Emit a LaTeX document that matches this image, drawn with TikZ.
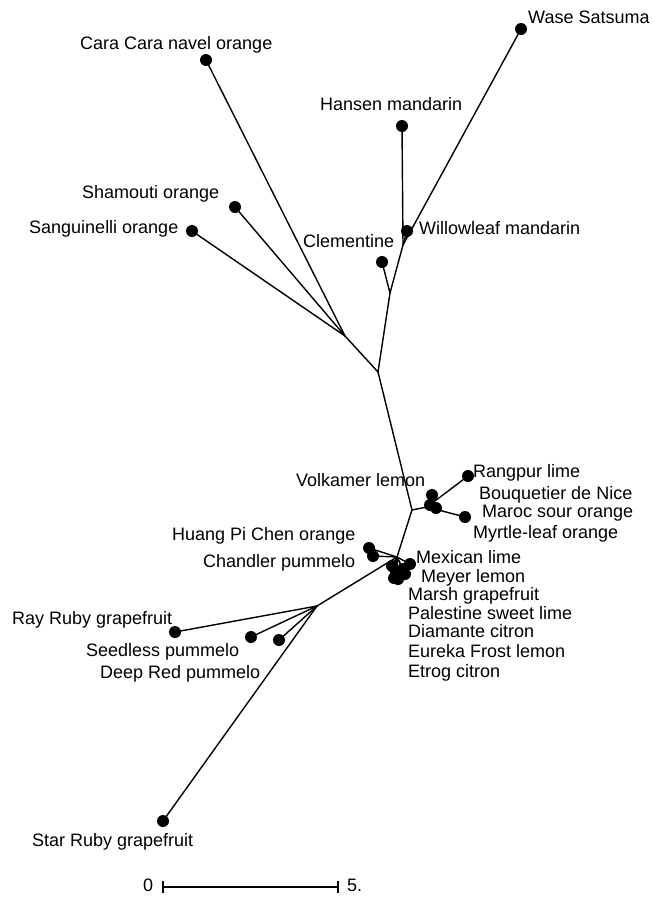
\documentclass[tikz,border=0pt]{standalone}
\usepackage{fontspec}
\setmainfont{Liberation Sans}
\begin{document}
\begin{tikzpicture}[x=1pt,y=-1pt,
  leaf/.style={circle,fill=black,inner sep=0pt,minimum size=12pt},
  lab/.style={inner sep=0pt,anchor=west,text height=13pt,text depth=0pt,font=\fontsize{18}{20}\selectfont},
  br/.style={line width=1.4pt,line cap=round}]
\useasboundingbox (0,0) rectangle (655,897);
% internal junctions
\coordinate (M2) at (403,245);
\coordinate (M1) at (390,293);
\coordinate (T1) at (378,372);
\coordinate (O) at (345,336);
\coordinate (JS) at (412,510);
\coordinate (S1) at (427,507);
\coordinate (JL) at (397,557);
\coordinate (G) at (317,606);
% leaves
\node[leaf] (wase) at (521,29) {};
\node[leaf] (cara) at (206,60) {};
\node[leaf] (hansen) at (402,126) {};
\node[leaf] (shamouti) at (235,207) {};
\node[leaf] (sang) at (192,231) {};
\node[leaf] (willow) at (407,231) {};
\node[leaf] (clem) at (382,262) {};
\node[leaf] (rangpur) at (468,476) {};
\node[leaf] (bouq) at (432,495) {};
\node[leaf] (maroc) at (436,508) {};
\node[leaf] (volk) at (430,505) {};
\node[leaf] (myrtle) at (465,517) {};
\node[leaf] (huang) at (369,548) {};
\node[leaf] (chandler) at (373,556) {};
\node[leaf] (mexican) at (410,564) {};
\node[leaf] (meyer) at (403,569) {};
\node[leaf] (marsh) at (396,572) {};
\node[leaf] (palest) at (392,566) {};
\node[leaf] (diam) at (398,579) {};
\node[leaf] (eureka) at (405,574) {};
\node[leaf] (etrog) at (394,578) {};
\node[leaf] (rayruby) at (175,632) {};
\node[leaf] (seedless) at (251,637) {};
\node[leaf] (deepred) at (279,640) {};
\node[leaf] (starruby) at (163,821) {};
% branches
\draw[br] (M2) -- (wase.center);
\draw[br] (M2) -- (hansen.center);
\draw[br] (M2) -- (willow.center);
\draw[br] (M2) -- (M1);
\draw[br] (M1) -- (clem.center);
\draw[br] (M1) -- (T1);
\draw[br] (T1) -- (O);
\draw[br] (O) -- (cara.center);
\draw[br] (O) -- (shamouti.center);
\draw[br] (O) -- (sang.center);
\draw[br] (T1) -- (JS);
\draw[br] (JS) -- (S1);
\foreach \n in {rangpur,bouq,maroc,volk,myrtle} \draw[br] (S1) -- (\n.center);
\draw[br] (JS) -- (JL);
\foreach \n in {huang,chandler,mexican,meyer,marsh,palest,diam,eureka,etrog} \draw[br] (JL) -- (\n.center);
\draw[br] (JL) -- (G);
\foreach \n in {rayruby,seedless,deepred,starruby} \draw[br] (G) -- (\n.center);
% labels
\node[lab] (lwase) at (528,17) {Wase Satsuma};
\node[lab] (lcara) at (80,43) {Cara Cara navel orange};
\node[lab] (lhansen) at (320,104) {Hansen mandarin};
\node[lab] (lshamouti) at (82,192) {Shamouti orange};
\node[lab] (lsang) at (29,227) {Sanguinelli orange};
\node[lab] (lwillow) at (419,228) {Willowleaf mandarin};
\node[lab] (lclem) at (303,241) {Clementine};
\node[lab] (lvolk) at (296,480) {Volkamer lemon};
\node[lab] (lrangpur) at (473,471) {Rangpur lime};
\node[lab] (lbouq) at (479,493) {Bouquetier de Nice};
\node[lab] (lmaroc) at (482,511) {Maroc sour orange};
\node[lab] (lmyrtle) at (473,532) {Myrtle-leaf orange};
\node[lab] (lhuang) at (172,534) {Huang Pi Chen orange};
\node[lab] (lchandler) at (203,561) {Chandler pummelo};
\node[lab] (lmexican) at (416,557) {Mexican lime};
\node[lab] (lmeyer) at (421,576) {Meyer lemon};
\node[lab] (lmarsh) at (408,594) {Marsh grapefruit};
\node[lab] (lpalest) at (408,613) {Palestine sweet lime};
\node[lab] (ldiam) at (408,631) {Diamante citron};
\node[lab] (leureka) at (408,651) {Eureka Frost lemon};
\node[lab] (letrog) at (408,671) {Etrog citron};
\node[lab] (lrayruby) at (12,618) {Ray Ruby grapefruit};
\node[lab] (lseedless) at (86,650) {Seedless pummelo};
\node[lab] (ldeepred) at (100,672) {Deep Red pummelo};
\node[lab] (lstarruby) at (32,840) {Star Ruby grapefruit};
% scale bar
\coordinate (sb0) at (163,887);
\coordinate (sb5) at (338,887);
\draw[line width=1.4pt] (sb0) -- (sb5);
\draw[line width=1.4pt] ([yshift=-6pt]sb0) -- ([yshift=6pt]sb0);
\draw[line width=1.4pt] ([yshift=-6pt]sb5) -- ([yshift=6pt]sb5);
\node[lab] (s0) at (143,885) {0};
\node[lab] (s5) at (347,885) {5.};
\end{tikzpicture}
\end{document}
